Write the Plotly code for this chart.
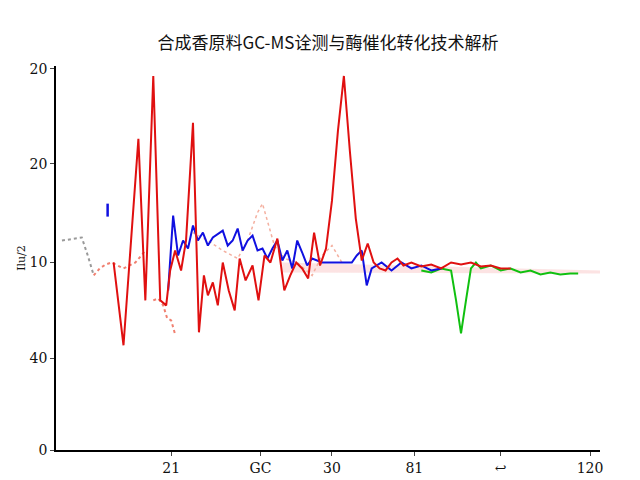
import plotly.graph_objects as go

x_ticks = [168, 258, 330, 413, 500, 590]
x_labels = ["21", "GC", "30", "81", "↩", "120"]
y_ticks = [68, 163, 262, 358, 450]
y_labels = ["20", "20", "10", "40", "0"]

gray_x = [58, 65, 72, 78, 84, 90]
gray_y = [240, 239, 238, 237, 255, 275]
pink1_x = [90, 96, 102, 108, 114, 120, 126, 132, 138, 142]
pink1_y = [275, 268, 264, 262, 265, 268, 265, 262, 255, 250]
pink2_x = [150, 155, 160, 164, 168, 172]
pink2_y = [300, 298, 305, 318, 320, 334]
orange_x = [190, 205, 220, 235, 245, 255, 260, 265, 272, 282, 295, 310, 320, 330, 340]
orange_y = [232, 240, 250, 258, 240, 212, 203, 220, 245, 258, 262, 275, 255, 245, 262]
red_x = [110, 120, 135, 142, 150, 157, 163, 167, 172, 178, 183, 190, 196, 201, 205, 210, 215, 220,
         226, 232, 237, 243, 250, 256, 262, 268, 275, 282, 288, 294, 300, 306, 312, 318, 324, 330,
         336, 342, 348, 354, 360, 366, 372, 378, 384, 390, 396, 402, 410, 420, 430, 440, 450, 460,
         470, 480, 490, 500, 510]
red_y = [262, 345, 138, 300, 75, 300, 305, 270, 250, 270, 240, 122, 332, 275, 295, 282, 305, 262,
         290, 310, 258, 280, 265, 300, 255, 262, 238, 290, 275, 262, 268, 278, 232, 265, 248, 200,
         130, 75, 150, 218, 260, 243, 262, 268, 270, 262, 258, 265, 262, 266, 264, 268, 262, 264,
         262, 266, 265, 268, 268]
blue_tick_x = [104, 104]
blue_tick_y = [203, 216]
blue_x = [165, 170, 175, 180, 185, 190, 195, 200, 205, 210, 220, 225, 230, 235, 240, 245, 250, 255,
          260, 265, 270, 275, 280, 285, 290, 295, 300, 305, 310, 320, 330, 340, 350, 355, 360, 365,
          370, 380, 390, 400, 410, 420, 430, 440]
blue_y = [290, 215, 255, 240, 248, 225, 240, 232, 245, 237, 230, 245, 240, 228, 250, 240, 235, 250,
          248, 258, 248, 240, 260, 250, 268, 240, 252, 265, 258, 262, 262, 262, 262, 255, 250, 285,
          268, 262, 270, 262, 268, 265, 270, 268]
green_x = [420, 430, 440, 450, 455, 460, 465, 470, 475, 480, 490, 500, 510, 520, 530, 540, 550, 560, 570, 578]
green_y = [270, 272, 268, 270, 300, 333, 300, 268, 262, 268, 265, 270, 268, 272, 270, 274, 272, 274, 273, 273]
band_x = [280, 600]
band_top = [262, 270]
band_bot = [272, 273]

fig = go.Figure()
fig.add_trace(go.Scatter(x=band_x + band_x[::-1], y=band_top + band_bot[::-1], fill="toself",
                         fillcolor="rgba(250,200,200,0.5)", line=dict(width=0), mode="lines"))
fig.add_trace(go.Scatter(x=gray_x, y=gray_y, mode="lines", line=dict(color="#999", width=2, dash="dot")))
fig.add_trace(go.Scatter(x=pink1_x, y=pink1_y, mode="lines", line=dict(color="#f08070", width=2, dash="dot")))
fig.add_trace(go.Scatter(x=pink2_x, y=pink2_y, mode="lines", line=dict(color="#f08070", width=2, dash="dot")))
fig.add_trace(go.Scatter(x=orange_x, y=orange_y, mode="lines", line=dict(color="#f4b0a0", width=1.5, dash="dot")))
fig.add_trace(go.Scatter(x=blue_tick_x, y=blue_tick_y, mode="lines", line=dict(color="#1010e0", width=2.5)))
fig.add_trace(go.Scatter(x=green_x, y=green_y, mode="lines", line=dict(color="#10c010", width=2)))
fig.add_trace(go.Scatter(x=blue_x, y=blue_y, mode="lines", line=dict(color="#1010e0", width=2)))
fig.add_trace(go.Scatter(x=red_x, y=red_y, mode="lines", line=dict(color="#e01010", width=2)))

fig.update_layout(
    width=640, height=480, showlegend=False, plot_bgcolor="white", paper_bgcolor="white",
    margin=dict(l=44, r=48, t=58, b=32),
    title=dict(text="合成香原料GC-MS诠测与酶催化转化技术解析", x=0.5, y=0.94, xanchor="center",
               font=dict(family="Noto Sans CJK SC", size=17, color="#111")),
    font=dict(family="DejaVu Serif", size=14, color="#111"),
    xaxis=dict(range=[52, 600], tickvals=x_ticks, ticktext=x_labels, showline=True, linecolor="black",
               linewidth=1.5, ticks="outside", ticklen=4, showgrid=False, zeroline=False),
    yaxis=dict(range=[450, 65], tickvals=y_ticks, ticktext=y_labels, showline=True, linecolor="black",
               linewidth=1.5, ticks="outside", ticklen=4, showgrid=False, zeroline=False,
               title=dict(text="Ilu/2", standoff=2, font=dict(size=11))),
)
fig.write_html("out.html")
